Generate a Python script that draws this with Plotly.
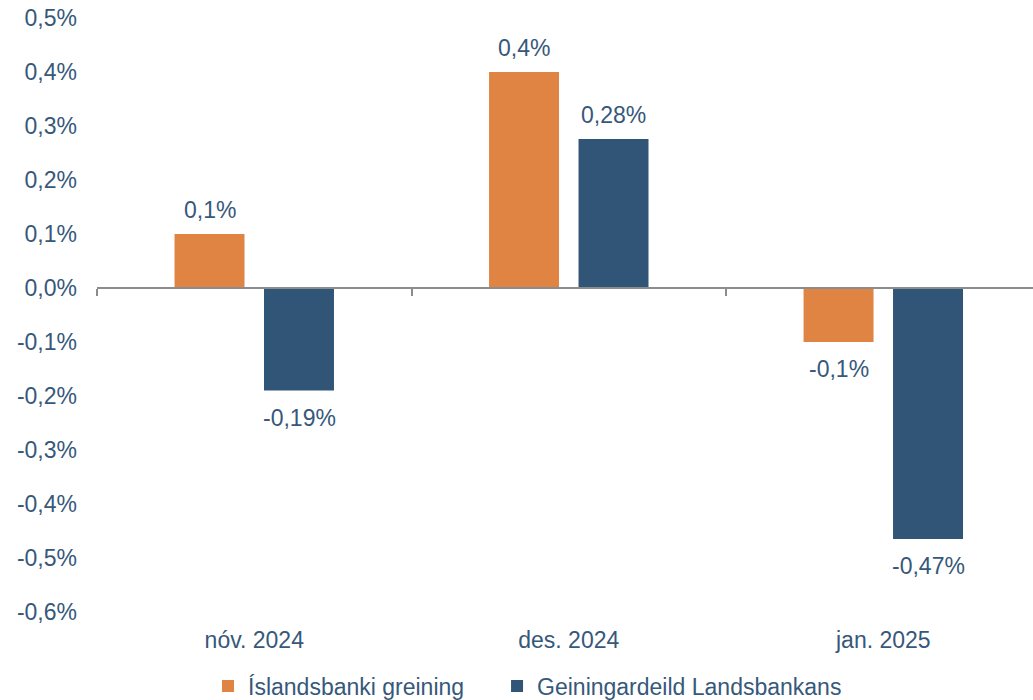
import plotly.graph_objects as go

categories = ["nóv. 2024", "des. 2024", "jan. 2025"]
islandsbanki = [0.10, 0.40, -0.10]
landsbankinn = [-0.19, 0.276, -0.465]
islandsbanki_labels = ["0,1%", "0,4%", "-0,1%"]
landsbankinn_labels = ["-0,19%", "0,28%", "-0,47%"]
series_names = ["Íslandsbanki greining", "Geiningardeild Landsbankans"]
tick_vals = [0.5, 0.4, 0.3, 0.2, 0.1, 0.0, -0.1, -0.2, -0.3, -0.4, -0.5, -0.6]
tick_text = ["0,5%", "0,4%", "0,3%", "0,2%", "0,1%", "0,0%", "-0,1%", "-0,2%",
             "-0,3%", "-0,4%", "-0,5%", "-0,6%"]

ORANGE = "#E08443"
BLUE = "#305577"
TEXT = "#36587A"
FONT = "Liberation Sans, Arial, sans-serif"
FS = 23

fig = go.Figure()
fig.add_trace(go.Bar(x=categories, y=islandsbanki, name=series_names[0], legend="legend",
                     marker=dict(color=ORANGE, line=dict(width=0))))
fig.add_trace(go.Bar(x=categories, y=landsbankinn, name=series_names[1], legend="legend2",
                     marker=dict(color=BLUE, line=dict(width=0))))

# value labels
annotations = []
for vals, labels, shift in [(islandsbanki, islandsbanki_labels, -44.75),
                            (landsbankinn, landsbankinn_labels, 44.75)]:
    for c, v, t in zip(categories, vals, labels):
        annotations.append(dict(x=c, y=v, text=t, showarrow=False,
                                xshift=shift, yshift=24 if v >= 0 else -27,
                                yanchor="middle", xanchor="center",
                                font=dict(size=FS, color=TEXT, family=FONT)))

zero_pos = 0.6 / 1.1
x_range = [-0.5, 2.476]
legend_common = dict(orientation="h", xanchor="left", yref="container", y=0.02,
                     yanchor="middle", font=dict(size=FS, color=TEXT),
                     bgcolor="rgba(0,0,0,0)")

fig.update_layout(
    width=1033, height=700,
    margin=dict(l=97, r=0, t=18, b=88, autoexpand=False),
    paper_bgcolor="white", plot_bgcolor="white",
    barmode="group", bargap=0.431, bargroupgap=0.218,
    font=dict(family=FONT, size=FS, color=TEXT),
    separators=",.",
    showlegend=True,
    legend=dict(x=0.1186, **legend_common),
    legend2=dict(x=0.4274, **legend_common),
    annotations=annotations,
    xaxis=dict(type="category", range=x_range, showline=False, ticks="",
               showgrid=False, zeroline=False, ticklabelstandoff=12, automargin=False,
               tickfont=dict(size=FS, color=TEXT)),
    xaxis2=dict(overlaying="x", anchor="free", position=zero_pos, side="bottom",
                range=x_range, tickvals=[-0.5, 0.5, 1.5], showticklabels=False,
                showline=True, linecolor="#8C8C8C", linewidth=1.5, automargin=False,
                ticks="outside", ticklen=7, tickcolor="#8C8C8C", tickwidth=1.5,
                showgrid=False, zeroline=False),
    yaxis=dict(range=[-0.6, 0.5], tickvals=tick_vals, ticktext=tick_text,
               showgrid=False, zeroline=False, showline=False, ticks="", automargin=False,
               ticklabelstandoff=19, tickfont=dict(size=FS, color=TEXT)),
)
# invisible helper trace to activate the zero-line axis
fig.add_trace(go.Scatter(x=[0], y=[0], xaxis="x2", mode="markers",
                         marker=dict(opacity=0), showlegend=False, hoverinfo="skip"))

fig.write_html("out.html", config={"displayModeBar": False},
               post_script="document.body.style.margin='0';document.body.style.overflow='hidden';")
